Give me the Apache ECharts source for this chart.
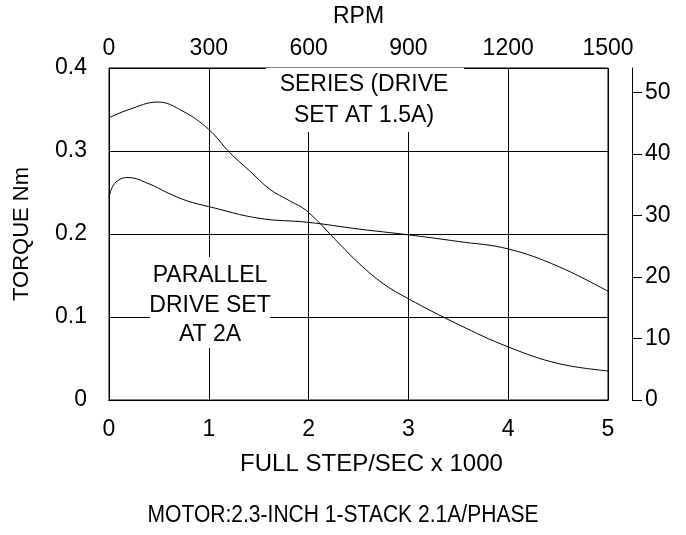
<!DOCTYPE html>
<html>
<head>
<meta charset="utf-8">
<script src="https://cdn.jsdelivr.net/npm/echarts@6/dist/echarts.min.js"></script>
<style>
  html, body { margin: 0; padding: 0; background: #fff; }
  #main { width: 686px; height: 535px; }
</style>
</head>
<body>
<div id="main"></div>
<script>
// steps/sec (x1000) and torque (Nm)
var seriesSteps  = [0, 0.2, 0.49, 0.74, 1, 1.21, 1.41, 1.61, 1.81, 1.98, 2.31, 2.51, 2.75, 3, 3.5, 4, 4.5, 5];
var seriesTorque = [0.340, 0.350, 0.359, 0.348, 0.326, 0.298, 0.276, 0.254, 0.240, 0.228, 0.188, 0.164, 0.140, 0.122, 0.091, 0.064, 0.044, 0.035];

var parallelSteps  = [0, 0.04, 0.11, 0.19, 0.41, 0.58, 0.78, 1, 1.5, 2, 2.5, 3, 3.5, 4, 4.5, 5];
var parallelTorque = [0.244, 0.258, 0.266, 0.268, 0.260, 0.250, 0.240, 0.233, 0.219, 0.214, 0.206, 0.199, 0.191, 0.182, 0.161, 0.131];

var rpmTicks = [0, 300, 600, 900, 1200, 1500];
var ozinTicks = [0, 10, 20, 30, 40, 50];

function pairs(xs, ys) {
    var res = [];
    for (var i = 0; i < xs.length; i++) {
        res.push([xs[i], ys[i]]);
    }
    return res;
}

var FONT = '"Liberation Sans", Arial, Helvetica, sans-serif';
var black = '#000';
var lbl = { color: black, fontSize: 23, fontFamily: FONT };

var myChart = echarts.init(document.getElementById('main'));

var option = {
    backgroundColor: '#fff',
    animation: false,
    grid: {
        left: 109,
        right: 78,
        top: 67,
        bottom: 135,
        show: true,
        borderColor: black,
        borderWidth: 1,
        backgroundColor: 'transparent'
    },
    xAxis: [
        {
            type: 'value',
            position: 'bottom',
            min: 0,
            max: 5,
            interval: 1,
            name: 'FULL STEP/SEC x 1000',
            nameLocation: 'middle',
            nameGap: 52,
            nameTextStyle: { color: black, fontSize: 24, fontFamily: FONT, padding: [0, 0, 0, 26] },
            axisLine: { show: true, lineStyle: { color: black, width: 1 } },
            axisTick: { show: false },
            axisLabel: Object.assign({ margin: 18 }, lbl),
            splitLine: { show: true, lineStyle: { color: black, width: 1 } }
        },
        {
            type: 'value',
            position: 'top',
            min: 0,
            max: 1500,
            interval: 300,
            name: 'RPM',
            nameLocation: 'middle',
            nameGap: 40,
            nameTextStyle: lbl,
            axisLine: { show: true, lineStyle: { color: black, width: 1 } },
            axisTick: { show: false },
            axisLabel: Object.assign({
                margin: 8,
                customValues: rpmTicks,
                formatter: function (v) { return String(v); }
            }, lbl),
            splitLine: { show: false }
        }
    ],
    yAxis: [
        {
            type: 'value',
            position: 'left',
            min: 0,
            max: 0.4,
            interval: 0.1,
            name: 'TORQUE Nm',
            nameLocation: 'middle',
            nameGap: 76,
            nameTextStyle: { color: black, fontSize: 22, fontFamily: FONT },
            axisLine: { show: true, lineStyle: { color: black, width: 1 } },
            axisTick: { show: false },
            axisLabel: Object.assign({ margin: 22 }, lbl),
            splitLine: { show: true, lineStyle: { color: black, width: 1 } }
        },
        {
            type: 'value',
            position: 'right',
            offset: 24,
            min: 0,
            max: 54,
            axisLine: { show: true, onZero: false, lineStyle: { color: black, width: 1 } },
            axisTick: { show: true, inside: false, length: 10, customValues: ozinTicks, lineStyle: { color: black } },
            axisLabel: Object.assign({ margin: 13, customValues: ozinTicks }, lbl),
            splitLine: { show: false }
        }
    ],
    graphic: [
        {
            type: 'group',
            z: 1,
            children: [
                { type: 'rect', shape: { x: 266, y: 68, width: 198, height: 64 }, style: { fill: '#fff' }, z: 1 },
                {
                    type: 'text', z: 1,
                    style: {
                        x: 364, y: 69,
                        text: 'SERIES (DRIVE\nSET AT 1.5A)',
                        fill: black, font: '23px ' + FONT,
                        textAlign: 'center', textVerticalAlign: 'top', lineHeight: 31
                    }
                },
                { type: 'rect', shape: { x: 150, y: 257, width: 120, height: 91 }, style: { fill: '#fff' }, z: 1 },
                {
                    type: 'text', z: 1,
                    style: {
                        x: 210, y: 261,
                        text: 'PARALLEL\nDRIVE SET\nAT 2A',
                        fill: black, font: '23px ' + FONT,
                        textAlign: 'center', textVerticalAlign: 'top', lineHeight: 29.5
                    }
                }
            ]
        },
        {
            // motor caption, a little condensed like the original
            type: 'text',
            x: 343,
            y: 516,
            scaleX: 0.915,
            style: {
                text: 'MOTOR:2.3-INCH 1-STACK 2.1A/PHASE',
                fill: black, font: '23px ' + FONT,
                textAlign: 'center', textVerticalAlign: 'middle'
            }
        }
    ],
    series: [
        {
            name: 'SERIES',
            type: 'line',
            xAxisIndex: 0,
            yAxisIndex: 0,
            data: pairs(seriesSteps, seriesTorque),
            smooth: 0.4,
            showSymbol: false,
            symbol: 'none',
            z: 3,
            lineStyle: { color: black, width: 1 }
        },
        {
            name: 'PARALLEL',
            type: 'line',
            xAxisIndex: 0,
            yAxisIndex: 0,
            data: pairs(parallelSteps, parallelTorque),
            smooth: 0.4,
            showSymbol: false,
            symbol: 'none',
            z: 3,
            lineStyle: { color: black, width: 1 }
        }
    ]
};

myChart.setOption(option);
</script>
</body>
</html>
